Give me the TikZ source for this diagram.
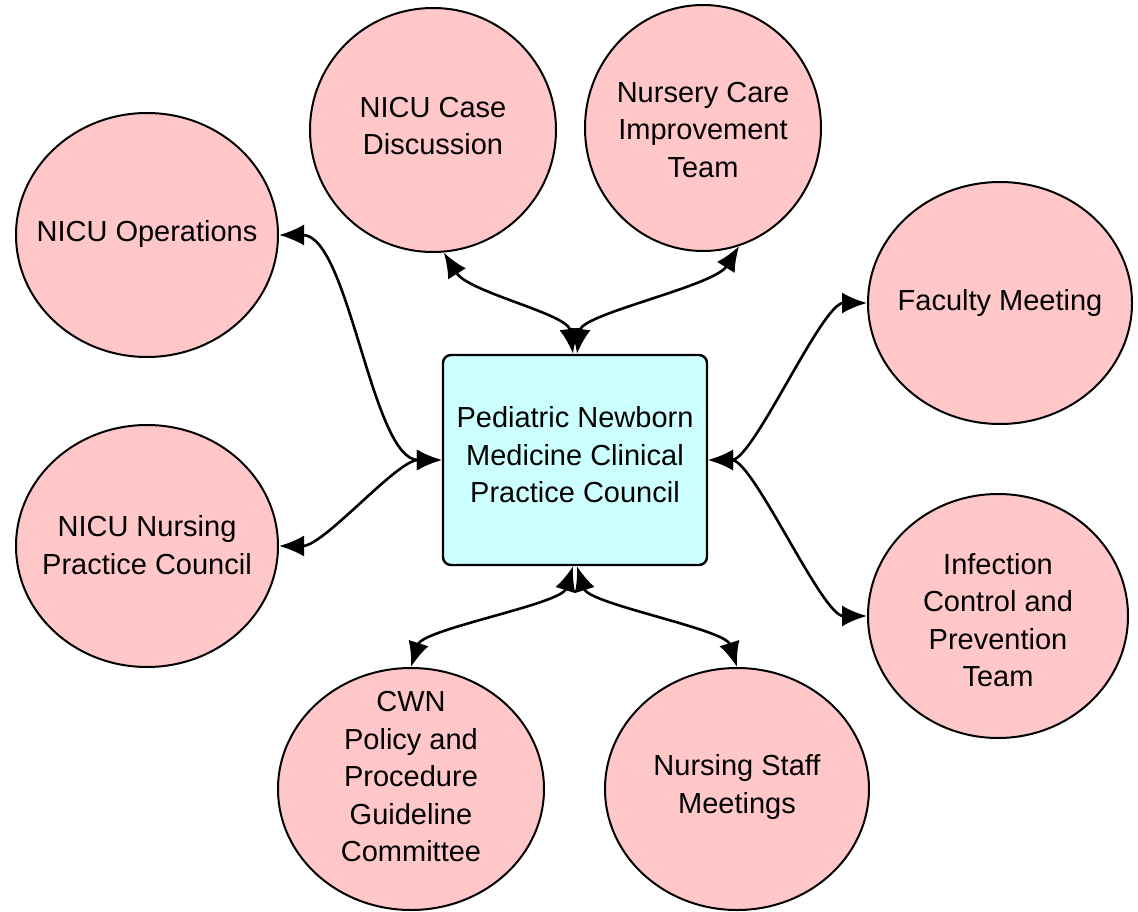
\documentclass[tikz,border=0pt]{standalone}
\usepackage{fontspec}
\setmainfont{Liberation Sans}
\usetikzlibrary{shapes.geometric,arrows.meta}
\definecolor{pinkfill}{RGB}{255,199,199}
\definecolor{cyanfill}{RGB}{204,255,255}
\begin{document}
\begin{tikzpicture}[x=1pt,y=-1pt,
  bubble/.style={ellipse, draw=black, line width=2pt, fill=pinkfill, inner sep=0pt},
  lbl/.style={align=center, font=\fontsize{29}{37.5}\selectfont, inner sep=0pt, text=black},
  council/.style={rectangle, rounded corners=8pt, draw=black, line width=2.4pt, fill=cyanfill,
                  minimum width=264pt, minimum height=210pt, inner sep=0pt},
  link/.style={line width=2.6pt, {Latex[length=25pt,width=21pt]}-{Latex[length=25pt,width=21pt]}}]
\fill[white] (0,0) rectangle (1138,912);
\useasboundingbox (0,0) rectangle (1138,912);

% central box
\node[council] (pnm) at (575,460) {};
\node[lbl] (pnmT) at (575,455) {Pediatric Newborn\\Medicine Clinical\\Practice Council};

% satellites
\node[bubble, minimum width=262pt, minimum height=244pt] (ops) at (147,235) {};
\node[lbl] (opsT) at (147,234) {NICU Operations};

\node[bubble, minimum width=246pt, minimum height=244pt] (cd) at (433,130) {};
\node[lbl] (cdT) at (433,126) {NICU Case\\Discussion};

\node[bubble, minimum width=236pt, minimum height=246pt] (nc) at (703,128) {};
\node[lbl] (ncT) at (703,130) {Nursery Care\\Improvement\\Team};

\node[bubble, minimum width=264pt, minimum height=242pt] (fac) at (1000,303) {};
\node[lbl] (facT) at (1000,303) {Faculty Meeting};

\node[bubble, minimum width=262pt, minimum height=242pt] (nnp) at (147,546) {};
\node[lbl] (nnpT) at (147,545) {NICU Nursing\\Practice Council};

\node[bubble, minimum width=260pt, minimum height=244pt] (ic) at (998,616) {};
\node[lbl] (icT) at (998,620) {Infection\\Control and\\Prevention\\Team};

\node[bubble, minimum width=266pt, minimum height=242pt] (cwn) at (411,789) {};
\node[lbl] (cwnT) at (411,777) {CWN\\Policy and\\Procedure\\Guideline\\Committee};

\node[bubble, minimum width=264pt, minimum height=242pt] (nsm) at (737,789) {};
\node[lbl] (nsmT) at (737,787) {Nursing Staff\\Meetings};

% connectors
\draw[link] (ops.east) .. controls +(70,0) and +(-70,0) .. (pnm.west);
\draw[link] (nnp.east) .. controls +(45,0) and +(-45,0) .. (pnm.west);
\draw[link] (cd.-85) .. controls +(25,40) and +(-5,-40) .. ([xshift=-2pt]pnm.north);
\draw[link] (nc.-73) .. controls +(-25,40) and +(5,-40) .. ([xshift=2pt]pnm.north);
\draw[link] (pnm.east) .. controls +(45,0) and +(-45,0) .. (fac.west);
\draw[link] (pnm.east) .. controls +(45,0) and +(-45,0) .. (ic.west);
\draw[link] ([xshift=-2pt]pnm.south) .. controls +(-12,38) and +(12,-38) .. (cwn.north);
\draw[link] ([xshift=2pt]pnm.south) .. controls +(12,38) and +(-12,-38) .. (nsm.north);
\end{tikzpicture}
\end{document}
